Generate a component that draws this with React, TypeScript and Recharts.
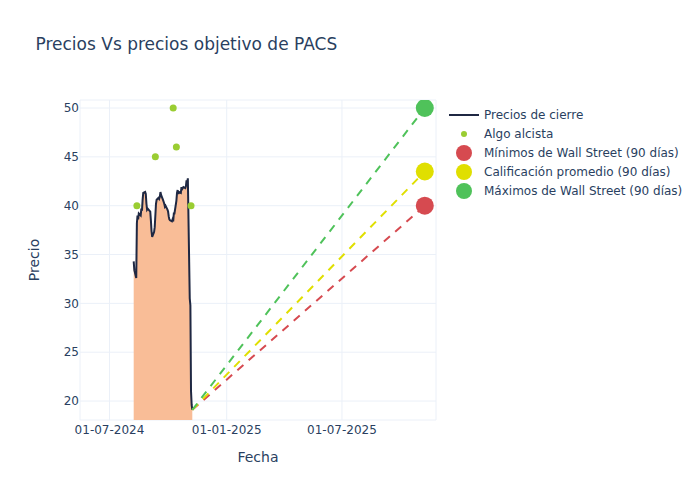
import React from 'react';
import { ComposedChart, Area, Line, XAxis, YAxis, CartesianGrid } from 'recharts';

const priceDates = [
  '2024-08-08', '2024-08-09', '2024-08-12', '2024-08-13', '2024-08-14', '2024-08-15', '2024-08-16',
  '2024-08-19', '2024-08-20', '2024-08-21', '2024-08-22', '2024-08-23', '2024-08-26', '2024-08-27',
  '2024-08-28', '2024-08-29', '2024-08-30', '2024-09-03', '2024-09-04', '2024-09-05', '2024-09-06',
  '2024-09-09', '2024-09-10', '2024-09-11', '2024-09-12', '2024-09-13', '2024-09-16', '2024-09-17',
  '2024-09-18', '2024-09-19', '2024-09-20', '2024-09-23', '2024-09-24', '2024-09-25', '2024-09-26',
  '2024-09-27', '2024-09-30', '2024-10-01', '2024-10-02', '2024-10-03', '2024-10-04', '2024-10-07',
  '2024-10-08', '2024-10-09', '2024-10-10', '2024-10-11', '2024-10-14', '2024-10-15', '2024-10-16',
  '2024-10-17', '2024-10-18', '2024-10-21', '2024-10-22', '2024-10-23', '2024-10-24', '2024-10-25',
  '2024-10-28', '2024-10-29', '2024-10-30', '2024-10-31', '2024-11-01', '2024-11-04', '2024-11-05',
  '2024-11-06', '2024-11-07', '2024-11-08',
];
const priceValues = [
  34.3, 33.4, 32.6, 38.2, 39.0, 38.6, 39.2,
  39.0, 39.7, 39.5, 40.6, 41.3, 41.4, 41.2,
  40.2, 39.6, 39.7, 39.4, 38.5, 37.4, 36.8,
  37.3, 37.8, 39.0, 40.2, 40.6, 40.8, 40.7,
  40.9, 41.4, 41.1, 40.6, 40.4, 40.2, 39.9,
  40.0, 39.6, 39.4, 38.9, 38.6, 38.5, 38.4,
  38.6, 38.4, 39.2, 39.2, 40.5, 41.3, 41.6,
  41.2, 41.4, 41.3, 41.9, 41.7, 41.8, 41.9,
  41.8, 42.0, 42.6, 42.3, 42.8, 30.5, 29.8,
  21.0, 19.6, 19.1,
];

const algoDates = ['2024-08-13', '2024-09-11', '2024-10-09', '2024-10-14', '2024-11-06'];
const algoValues = [40, 45, 50, 46, 40];

const targetDate = '2025-11-08';
const targetLow = 40;
const targetAvg = 43.5;
const targetHigh = 50;

const xTickDates = ['2024-07-01', '2025-01-01', '2025-07-01'];
const yTicks = [20, 25, 30, 35, 40, 45, 50];

const DAY = 86400000;
const toTs = (s: string) => Date.parse(s + 'T00:00:00Z');
const pad = (n: number) => (n < 10 ? '0' + n : '' + n);
const fmtDate = (t: number) => {
  const d = new Date(t);
  return `${pad(d.getUTCDate())}-${pad(d.getUTCMonth() + 1)}-${d.getUTCFullYear()}`;
};

type Row = { t: number; price?: number; algo?: number; low?: number; avg?: number; high?: number };
const rowMap = new Map<number, Row>();
const getRow = (t: number) => {
  let r = rowMap.get(t);
  if (!r) {
    r = { t };
    rowMap.set(t, r);
  }
  return r;
};
priceDates.forEach((d, i) => {
  getRow(toTs(d)).price = priceValues[i];
});
algoDates.forEach((d, i) => {
  getRow(toTs(d)).algo = algoValues[i];
});
const lastPriceTs = toTs(priceDates[priceDates.length - 1]);
const lastPrice = priceValues[priceValues.length - 1];
{
  const r = getRow(lastPriceTs);
  r.low = lastPrice;
  r.avg = lastPrice;
  r.high = lastPrice;
}
const targetTs = toTs(targetDate);
{
  const r = getRow(targetTs);
  r.low = targetLow;
  r.avg = targetAvg;
  r.high = targetHigh;
}
const rows = Array.from(rowMap.values()).sort((a, b) => a.t - b.t);

const baseTs = toTs('2024-07-01');
const xDomain = [baseTs - 46.3 * DAY, baseTs + 512.6 * DAY];
const xTicks = xTickDates.map(toTs);

const FONT = 'DejaVu Sans';
const TEXT = '#2a3f5f';
const NAVY = '#1f2843';
const FILL = '#f9bd97';
const ALGO = '#9acd32';
const RED = '#d64a50';
const YELLOW = '#e0df00';
const GREEN = '#4fc25a';

const targetDot = (color: string) => (p: any) => {
  if (p.payload && p.payload.t === targetTs) {
    return <circle key={`t-${color}-${p.index}`} cx={p.cx} cy={p.cy} r={9} fill={color} stroke="none" />;
  }
  return <g key={`n-${color}-${p.index}`} />;
};

const legendItems = [
  { label: 'Precios de cierre', kind: 'line', color: NAVY },
  { label: 'Algo alcista', kind: 'small', color: ALGO },
  { label: 'Mínimos de Wall Street (90 días)', kind: 'big', color: RED },
  { label: 'Calificación promedio (90 días)', kind: 'big', color: YELLOW },
  { label: 'Máximos de Wall Street (90 días)', kind: 'big', color: GREEN },
];

export default function App() {
  return (
    <div style={{ position: 'absolute', left: 0, top: 0, width: 700, height: 500, background: '#fff' }}>
      <ComposedChart
        width={700}
        height={500}
        data={rows}
        margin={{ top: 100, right: 264, bottom: 50, left: 20 }}
      >
        <CartesianGrid stroke="#ebf0f8" strokeWidth={1} />
        <XAxis
          dataKey="t"
          type="number"
          scale="linear"
          domain={xDomain}
          ticks={xTicks}
          tickFormatter={fmtDate}
          axisLine={false}
          tickLine={false}
          tickSize={0}
          tickMargin={5}
          height={30}
          allowDataOverflow
          tick={{ fill: TEXT, fontSize: 12, fontFamily: FONT }}
        />
        <YAxis
          type="number"
          domain={[18.06, 50.82]}
          ticks={yTicks}
          axisLine={false}
          tickLine={false}
          tickSize={0}
          tickMargin={1}
          width={60}
          allowDataOverflow
          tick={{ fill: TEXT, fontSize: 12, fontFamily: FONT }}
        />
        <Area
          type="linear"
          dataKey="price"
          stroke={NAVY}
          strokeWidth={2}
          fill={FILL}
          fillOpacity={1}
          connectNulls
          dot={false}
          activeDot={false}
          isAnimationActive={false}
        />
        <Line
          type="linear"
          dataKey="algo"
          stroke="none"
          strokeWidth={0}
          dot={{ r: 3.5, fill: ALGO, stroke: 'none' }}
          activeDot={false}
          isAnimationActive={false}
        />
        <Line
          type="linear"
          dataKey="low"
          stroke={RED}
          strokeWidth={2}
          strokeDasharray="8 7"
          connectNulls
          dot={targetDot(RED)}
          activeDot={false}
          isAnimationActive={false}
        />
        <Line
          type="linear"
          dataKey="avg"
          stroke={YELLOW}
          strokeWidth={2}
          strokeDasharray="8 7"
          connectNulls
          dot={targetDot(YELLOW)}
          activeDot={false}
          isAnimationActive={false}
        />
        <Line
          type="linear"
          dataKey="high"
          stroke={GREEN}
          strokeWidth={2}
          strokeDasharray="8 7"
          connectNulls
          dot={targetDot(GREEN)}
          activeDot={false}
          isAnimationActive={false}
        />
      </ComposedChart>
      <svg
        width={700}
        height={500}
        style={{ position: 'absolute', left: 0, top: 0, pointerEvents: 'none' }}
        fontFamily={FONT}
      >
        <text x={35.5} y={50} fontSize={17} fill={TEXT}>
          Precios Vs precios objetivo de PACS
        </text>
        <text x={258} y={461.5} fontSize={14} fill={TEXT} textAnchor="middle">
          Fecha
        </text>
        <text x={39} y={260} fontSize={14} fill={TEXT} textAnchor="middle" transform="rotate(-90 39 260)">
          Precio
        </text>
        {legendItems.map((it, i) => {
          const cy = 115 + i * 19;
          return (
            <g key={it.label}>
              {it.kind === 'line' && <line x1={449} x2={479} y1={cy} y2={cy} stroke={it.color} strokeWidth={2} />}
              {it.kind === 'small' && <circle cx={464} cy={cy} r={3} fill={it.color} />}
              {it.kind === 'big' && <circle cx={464} cy={cy} r={8} fill={it.color} />}
              <text x={484} y={cy + 4.3} fontSize={12} fill={TEXT}>
                {it.label}
              </text>
            </g>
          );
        })}
      </svg>
    </div>
  );
}
